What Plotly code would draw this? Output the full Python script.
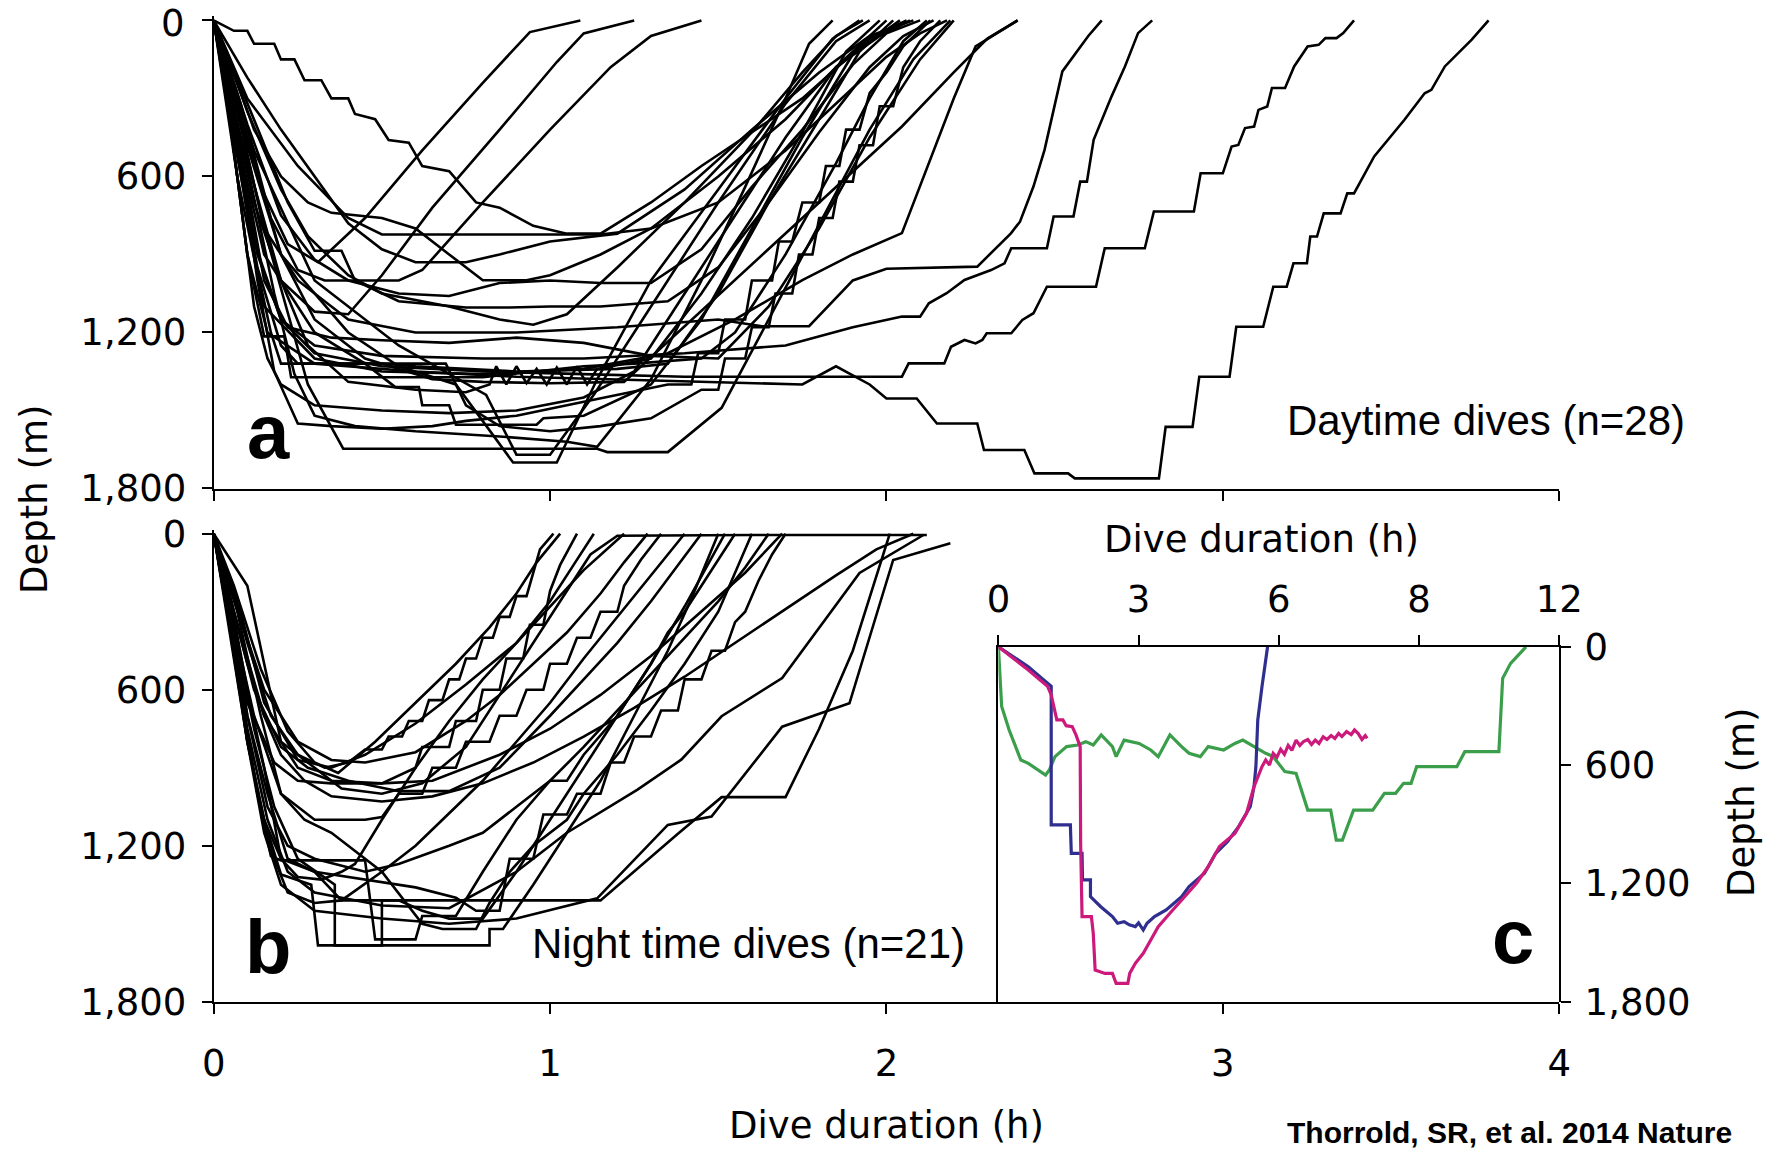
import plotly.graph_objects as go

# ---------------- DATA (time in hours, depth in metres) ----------------
DAY_DIVES = [
    [(0,0),(0.06,280),(0.14,640),(0.22,860),(0.31,930),(0.45,760),(0.62,500),(0.8,240),(0.94,45),(1.09,0)],
    [(0,0),(0.05,300),(0.12,700),(0.2,1000),(0.3,1120),(0.4,1130),(0.5,980),(0.65,720),(0.85,420),(1.02,160),(1.1,50),(1.25,0)],
    [(0,0),(0.08,320),(0.17,760),(0.25,960),(0.33,1000),(0.55,1000),(0.62,960),(0.8,700),(1.0,420),(1.18,180),(1.3,60),(1.45,0)],
    [(0,0),(0.1,560),(0.18,1050),(0.24,1360),(0.3,1520),(0.42,1560),(0.6,1580),(0.85,1600),(1.05,1620),(1.14,1640),(1.3,1380),(1.45,1000),(1.58,640),(1.7,300),(1.77,90),(1.84,0)],
    [(0,0),(0.08,400),(0.2,900),(0.4,1200),(0.55,1330),(0.72,1400),(0.89,1700),(1.02,1700),(1.14,1380),(1.3,1000),(1.5,650),(1.7,300),(1.84,70),(1.92,0)],
    [(0,0),(0.12,500),(0.3,1000),(0.55,1250),(0.81,1440),(0.9,1670),(1.0,1670),(1.13,1440),(1.3,1100),(1.5,700),(1.7,320),(1.85,80),(1.95,0)],
    [(0,0),(0.08,450),(0.2,1000),(0.28,1250),(0.4,1390),(0.6,1420),(0.75,1430),(0.82,1400),(0.84,1330),(0.87,1400),(0.9,1330),(0.93,1395),(0.96,1340),(0.99,1400),(1.02,1335),(1.05,1400),(1.08,1330),(1.11,1400),(1.14,1340),(1.3,1300),(1.45,1050),(1.6,760),(1.75,430),(1.88,120),(1.98,0)],
    [(0,0),(0.05,350),(0.12,900),(0.17,1200),(0.2,1320),(0.5,1320),(0.6,1330),(0.9,1350),(1.2,1340),(1.35,1320),(1.5,1050),(1.65,700),(1.8,380),(1.92,120),(2.02,0)],
    [(0,0),(0.06,400),(0.15,900),(0.3,1200),(0.45,1320),(0.5,1372),(0.54,1410),(0.61,1410),(0.62,1480),(0.7,1480),(0.72,1555),(0.96,1555),(0.98,1530),(1.1,1520),(1.3,1400),(1.45,1150),(1.6,800),(1.75,450),(1.9,130),(2.04,0)],
    [(0,0),(0.06,40),(0.1,40),(0.12,90),(0.18,90),(0.2,150),(0.24,150),(0.27,230),(0.32,230),(0.35,300),(0.4,300),(0.42,360),(0.48,380),(0.52,460),(0.58,470),(0.62,560),(0.7,580),(0.78,700),(0.85,720),(0.95,790),(1.05,820),(1.15,820),(1.3,700),(1.45,560),(1.6,430),(1.75,300),(1.88,150),(1.96,60),(2.06,0)],
    [(0,0),(0.1,220),(0.2,420),(0.3,600),(0.4,780),(0.5,880),(0.6,930),(0.75,930),(0.85,900),(1.0,850),(1.2,820),(1.4,650),(1.6,420),(1.8,200),(1.95,60),(2.08,0)],
    [(0,0),(0.1,400),(0.2,750),(0.3,920),(0.4,1000),(0.55,1050),(0.7,1060),(0.85,1010),(1.0,1000),(1.15,1010),(1.3,1010),(1.45,880),(1.6,640),(1.75,420),(1.9,170),(2.0,50),(2.1,0)],
    [(0,0),(0.04,300),(0.1,900),(0.15,1215),(0.21,1215),(0.23,1372),(0.8,1372),(0.95,1350),(1.1,1330),(1.25,1320),(1.45,1300),(1.55,1200),(1.7,900),(1.85,550),(1.95,300),(2.05,80),(2.12,0)],
    [(0,0),(0.12,380),(0.22,700),(0.3,886),(0.38,886),(0.42,1000),(0.55,1080),(0.75,1104),(0.88,1104),(1.0,1100),(1.15,1100),(1.35,1080),(1.5,950),(1.65,700),(1.8,430),(1.95,180),(2.05,60),(2.14,0)],
    [(0,0),(0.06,450),(0.13,950),(0.2,1250),(0.25,1320),(0.69,1320),(0.75,1480),(0.85,1560),(1.0,1580),(1.15,1560),(1.3,1530),(1.45,1420),(1.5,1420),(1.52,1300),(1.58,1300),(1.6,1180),(1.65,1180),(1.67,1050),(1.72,1050),(1.74,900),(1.78,900),(1.8,760),(1.84,760),(1.86,620),(1.9,620),(1.92,480),(1.96,480),(1.98,330),(2.02,330),(2.05,180),(2.1,80),(2.16,0)],
    [(0,0),(0.1,300),(0.25,560),(0.4,760),(0.5,823),(1.15,823),(1.3,800),(1.5,700),(1.7,500),(1.85,320),(2.0,140),(2.1,50),(2.18,0)],
    [(0,0),(0.08,500),(0.15,1000),(0.22,1180),(0.35,1220),(0.5,1230),(0.7,1240),(0.9,1220),(1.1,1240),(1.3,1290),(1.5,1300),(1.65,1100),(1.8,800),(1.95,450),(2.1,150),(2.2,0)],
    [(0,0),(0.1,450),(0.2,900),(0.3,1150),(0.45,1300),(0.65,1380),(0.8,1390),(1.0,1395),(1.22,1390),(2.046,408),(2.2,200),(2.3,70),(2.39,0)],
    [(0,0),(0.07,600),(0.15,1100),(0.3,1300),(0.5,1350),(0.8,1360),(1.1,1340),(1.35,1280),(1.55,1150),(1.75,999),(1.9,900),(2.046,818),(2.2,300),(2.265,100),(2.39,0)],
    [(0,0),(0.08,400),(0.15,800),(0.25,1000),(0.4,1150),(0.6,1200),(0.9,1200),(1.2,1180),(1.5,1150),(1.63,1176),(1.77,1176),(1.9,1000),(2.0,955),(2.27,947),(2.37,819),(2.397,774),(2.437,639),(2.47,498),(2.497,344),(2.523,196),(2.6,60),(2.64,0)],
    [(0,0),(0.06,400),(0.13,900),(0.2,1150),(0.3,1250),(0.5,1290),(0.8,1300),(1.1,1300),(1.4,1280),(1.7,1250),(1.9,1180),(2.046,1139),(2.1,1139),(2.126,1088),(2.179,1049),(2.232,998),(2.311,960),(2.351,934),(2.371,876),(2.477,876),(2.497,754),(2.556,754),(2.576,620),(2.596,620),(2.616,459),(2.669,293),(2.709,177),(2.748,49),(2.79,0)],
    [(0,0),(0.05,350),(0.12,850),(0.2,1150),(0.3,1280),(0.5,1330),(0.8,1350),(1.1,1360),(1.4,1370),(1.7,1370),(2.046,1370),(2.066,1319),(2.172,1319),(2.192,1255),(2.232,1229),(2.265,1242),(2.285,1229),(2.298,1203),(2.371,1203),(2.404,1152),(2.437,1126),(2.477,1024),(2.623,1024),(2.649,876),(2.768,876),(2.795,735),(2.914,735),(2.934,588),(3.0,588),(3.026,485),(3.046,479),(3.066,414),(3.093,408),(3.106,344),(3.132,331),(3.146,260),(3.185,260),(3.212,177),(3.252,100),(3.285,94),(3.305,68),(3.338,68),(3.358,49),(3.39,0)],
    [(0,0),(0.05,400),(0.1,900),(0.16,1200),(0.3,1320),(0.6,1350),(0.9,1370),(1.2,1380),(1.5,1390),(1.75,1400),(1.85,1330),(1.95,1400),(2.0,1454),(2.09,1454),(2.15,1550),(2.27,1550),(2.29,1652),(2.41,1652),(2.44,1742),(2.54,1742),(2.56,1761),(2.81,1761),(2.83,1563),(2.91,1563),(2.93,1370),(3.02,1370),(3.04,1178),(3.12,1178),(3.15,1024),(3.19,1024),(3.21,934),(3.25,934),(3.26,831),(3.28,831),(3.30,742),(3.35,742),(3.37,665),(3.39,665),(3.45,523),(3.52,414),(3.54,382),(3.60,280),(3.62,267),(3.66,177),(3.69,139),(3.74,74),(3.79,0)],
    [(0,0),(0.1,350),(0.2,650),(0.28,830),(0.4,980),(0.5,1050),(0.7,1100),(0.85,1150),(0.95,1170),(1.05,1130),(1.2,950),(1.4,700),(1.6,430),(1.75,200),(1.85,60),(1.93,0)],
    [(0,0),(0.04,300),(0.08,700),(0.12,1100),(0.16,1300),(0.2,1400),(0.3,1480),(0.5,1500),(0.7,1510),(0.9,1500),(1.1,1450),(1.25,1350),(1.4,1050),(1.55,750),(1.7,450),(1.85,180),(2.0,0)],
    [(0,0),(0.06,200),(0.12,420),(0.2,600),(0.28,700),(0.35,740),(0.5,760),(0.6,800),(0.7,900),(0.8,999),(0.93,999),(1.0,980),(1.15,900),(1.3,800),(1.5,600),(1.7,380),(1.85,180),(1.98,60),(2.07,0)],
    [(0,0),(0.08,550),(0.13,1000),(0.18,1350),(0.25,1550),(0.35,1560),(0.5,1570),(0.65,1560),(0.75,1540),(0.9,1520),(1.05,1480),(1.2,1440),(1.35,1400),(1.42,1400),(1.44,1280),(1.5,1280),(1.52,1150),(1.58,1150),(1.6,1000),(1.66,1000),(1.68,850),(1.72,850),(1.75,700),(1.8,700),(1.82,560),(1.86,560),(1.88,420),(1.92,420),(1.95,280),(2.0,200),(2.05,100),(2.13,0)],
    [(0,0),(0.07,350),(0.15,800),(0.28,1400),(0.385,1647),(1.14,1647),(1.17,1660),(1.35,1660),(1.51,1490),(1.65,1150),(1.8,780),(1.95,420),(2.08,150),(2.19,0)],
]

NIGHT_DIVES = [
    [(0,0),(0.04,150),(0.1,420),(0.17,700),(0.25,850),(0.33,900),(0.4,880),(0.45,830),(0.5,830),(0.52,780),(0.56,780),(0.58,720),(0.62,720),(0.64,640),(0.68,640),(0.7,560),(0.73,560),(0.75,480),(0.78,480),(0.8,400),(0.83,400),(0.85,320),(0.88,320),(0.9,240),(0.93,240),(0.95,150),(0.97,60),(1.01,0)],
    [(0,0),(0.06,200),(0.14,520),(0.22,760),(0.3,880),(0.37,920),(0.48,800),(0.6,650),(0.72,500),(0.82,360),(0.9,230),(0.96,110),(1.03,0)],
    [(0,0),(0.05,300),(0.1,650),(0.18,880),(0.25,950),(0.35,960),(0.5,960),(0.6,900),(0.62,820),(0.7,820),(0.72,720),(0.78,720),(0.8,600),(0.85,600),(0.87,480),(0.92,480),(0.94,350),(0.98,350),(1.0,220),(1.03,120),(1.08,0)],
    [(0,0),(0.08,300),(0.15,650),(0.25,870),(0.35,900),(0.45,850),(0.6,730),(0.75,580),(0.9,420),(1.0,260),(1.07,120),(1.13,0)],
    [(0,0),(0.1,200),(0.15,500),(0.2,800),(0.3,900),(0.38,980),(0.5,1000),(0.62,960),(0.75,820),(0.85,620),(0.95,420),(1.05,220),(1.12,80),(1.2,8),(1.6,5),(2.12,5)],
    [(0,0),(0.05,250),(0.1,600),(0.15,900),(0.2,1250),(0.25,1320),(0.32,1330),(0.38,1300),(0.42,1270),(0.5,1100),(0.6,900),(0.7,720),(0.8,560),(0.9,420),(1.0,280),(1.1,140),(1.22,0)],
    [(0,0),(0.06,250),(0.15,600),(0.25,800),(0.35,870),(0.45,880),(0.6,840),(0.75,720),(0.85,620),(0.95,500),(1.05,380),(1.15,230),(1.22,110),(1.29,0)],
    [(0,0),(0.07,300),(0.14,700),(0.2,1000),(0.3,1100),(0.45,1100),(0.5,1090),(0.55,1000),(0.62,1000),(0.65,900),(0.72,900),(0.75,800),(0.82,800),(0.85,700),(0.9,700),(0.93,600),(0.98,600),(1.0,500),(1.05,500),(1.08,400),(1.12,400),(1.15,300),(1.2,300),(1.22,200),(1.27,100),(1.33,0)],
    [(0,0),(0.04,300),(0.09,700),(0.13,1000),(0.18,1250),(0.22,1380),(0.3,1420),(0.38,1410),(0.5,1300),(0.6,1200),(0.68,1100),(0.8,950),(0.9,800),(1.0,650),(1.1,480),(1.2,320),(1.3,160),(1.4,0)],
    [(0,0),(0.05,250),(0.12,600),(0.2,820),(0.28,900),(0.33,920),(0.4,950),(0.55,990),(0.7,990),(0.85,900),(1.0,700),(1.1,560),(1.2,420),(1.3,260),(1.38,120),(1.45,0)],
    [(0,0),(0.04,300),(0.1,800),(0.15,1100),(0.2,1310),(0.29,1350),(0.31,1583),(0.82,1583),(0.82,1520),(0.86,1520),(0.95,1350),(1.05,1150),(1.15,950),(1.25,700),(1.35,450),(1.42,250),(1.5,0)],
    [(0,0),(0.05,300),(0.12,750),(0.18,1050),(0.25,1250),(0.36,1350),(0.36,1583),(0.5,1583),(0.5,1410),(0.55,1410),(0.62,1450),(0.7,1480),(0.8,1480),(0.9,1300),(1.0,1100),(1.1,900),(1.2,700),(1.3,500),(1.4,280),(1.47,120),(1.52,0)],
    [(0,0),(0.03,200),(0.08,600),(0.13,1000),(0.17,1240),(0.2,1256),(0.45,1256),(0.48,1560),(0.6,1560),(0.62,1470),(0.72,1470),(0.8,1300),(0.9,1100),(1.0,950),(1.05,950),(1.1,850),(1.2,700),(1.25,600),(1.3,500),(1.35,380),(1.4,300),(1.45,200),(1.5,100),(1.55,0)],
    [(0,0),(0.05,300),(0.12,700),(0.2,1000),(0.27,1100),(0.35,1150),(0.5,1300),(0.62,1500),(0.68,1520),(0.78,1520),(0.82,1420),(0.88,1300),(0.95,1200),(1.05,1100),(1.1,1000),(1.2,850),(1.3,680),(1.4,500),(1.5,300),(1.55,150),(1.6,0)],
    [(0,0),(0.04,250),(0.1,700),(0.16,1050),(0.22,1200),(0.3,1250),(0.45,1300),(0.55,1270),(0.7,1200),(0.8,1150),(0.9,1050),(1.0,950),(1.1,820),(1.2,680),(1.3,540),(1.4,400),(1.5,260),(1.58,130),(1.65,0)],
    [(0,0),(0.06,300),(0.15,700),(0.25,900),(0.35,950),(0.5,960),(0.65,950),(0.75,900),(0.85,850),(1.0,750),(1.15,620),(1.3,470),(1.45,300),(1.58,150),(1.69,0)],
    [(0,0),(0.05,400),(0.1,800),(0.15,1100),(0.2,1250),(0.3,1300),(0.45,1330),(0.6,1360),(0.72,1400),(0.78,1450),(0.85,1450),(0.88,1250),(0.95,1250),(0.98,1080),(1.05,1080),(1.08,1000),(1.15,1000),(1.18,880),(1.22,880),(1.25,780),(1.3,780),(1.33,680),(1.38,680),(1.4,560),(1.45,560),(1.48,450),(1.52,450),(1.55,340),(1.58,300),(1.62,180),(1.66,80),(1.7,0)],
    [(0,0),(0.05,300),(0.1,700),(0.16,1000),(0.22,1250),(0.3,1300),(0.38,1410),(1.15,1410),(1.38,1154),(1.51,1013),(1.7,1013),(1.8,750),(1.9,450),(1.96,200),(2.01,0)],
    [(0,0),(0.04,300),(0.1,750),(0.16,1100),(0.22,1300),(0.3,1380),(0.5,1430),(0.7,1440),(0.9,1300),(1.05,1150),(1.26,984),(1.39,869),(1.51,702),(1.69,555),(1.92,151),(2.11,5)],
    [(0,0),(0.05,250),(0.1,500),(0.15,700),(0.2,850),(0.27,950),(0.35,1010),(0.5,1030),(0.65,1010),(0.8,960),(0.95,880),(1.1,780),(1.25,670),(1.4,550),(1.55,420),(1.7,290),(1.85,160),(1.97,60),(2.08,0)],
    [(0,0),(0.05,350),(0.1,800),(0.15,1150),(0.2,1350),(0.3,1450),(0.5,1480),(0.7,1500),(0.9,1480),(1.14,1402),(1.35,1120),(1.48,1088),(1.69,742),(1.89,652),(2.02,101),(2.19,37)],
]

# Inset c (time 0-12 h)
BLUE_T = [0,0.31,0.64,0.97,1.09,1.13,1.13,1.54,1.56,1.79,1.80,1.97,1.97,2.19,2.44,2.55,2.69,2.8,2.93,3.0,3.10,3.18,3.34,3.59,3.92,4.08,4.41,4.65,4.90,5.14,5.39,5.47,5.51,5.55,5.64,5.76]
BLUE_D = [0,50,101,168,194,200,903,903,1047,1047,1182,1182,1267,1318,1368,1402,1394,1410,1419,1400,1436,1402,1368,1334,1267,1216,1148,1047,988,912,810,709,608,371,202,0]
MAGENTA_T = [0,0.31,0.64,1.05,1.13,1.25,1.38,1.45,1.58,1.66,1.75,1.76,1.79,1.99,2.03,2.07,2.28,2.44,2.52,2.77,2.81,2.93,3.10,3.26,3.42,3.67,3.92,4.24,4.49,4.73,5.06,5.31,5.47,5.64,5.72,5.80,5.88,5.96,6.04,6.12,6.2,6.28,6.37,6.45,6.53,6.62,6.7,6.78,6.86,6.95,7.03,7.12,7.2,7.28,7.35,7.45,7.55,7.62,7.7,7.78,7.85,7.89]
MAGENTA_D = [0,58,118,200,244,371,371,400,405,447,506,1000,1368,1368,1453,1639,1656,1656,1707,1707,1656,1605,1554,1487,1419,1351,1284,1199,1115,1013,946,844,709,608,574,600,540,560,520,545,500,525,473,500,480,470,495,473,490,456,470,450,465,439,455,430,445,422,440,470,450,464]
GREEN_T = [0,0.07,0.23,0.48,0.64,1.01,1.09,1.21,1.46,1.70,1.87,2.03,2.20,2.44,2.52,2.69,3.01,3.26,3.42,3.67,3.92,4.08,4.32,4.49,4.82,5.06,5.23,5.47,5.72,5.88,6.13,6.37,6.62,7.11,7.23,7.36,7.60,8.01,8.26,8.50,8.67,8.83,8.95,9.81,9.98,10.71,10.79,10.96,11.29]
GREEN_D = [0,303,422,574,591,650,625,557,506,498,481,498,447,506,557,473,490,523,557,447,506,540,557,506,523,490,473,506,540,557,633,642,828,828,980,980,828,828,743,743,692,692,608,608,532,532,160,84,0]

DEPTH_TICKS = [0, 600, 1200, 1800]
DEPTH_LABELS = ["0", "600", "1,200", "1,800"]
DEPTH_LABELS_A = ["", "600", "1,200", "1,800"]   # top "0" of panel a is drawn as a note
HOUR_TICKS = [0, 1, 2, 3, 4]
HOUR_LABELS = ["0", "1", "2", "3", "4"]
INSET_TICKS = [0, 3, 6, 9, 12]
INSET_LABELS = ["0", "3", "6", "8", "12"]

# ---------------- LAYOUT GEOMETRY (screen pixels) ----------------
W, H = 1773, 1151
AX_FONT = "DejaVu Sans, Liberation Sans, Arial, sans-serif"
TXT_FONT = "Liberation Sans, Arial, Helvetica, sans-serif"
X0_PX, X4_PX = 213.7, 1559.2
A_TOP, A_BOT = 20.4, 488.5
B_TOP, B_BOT = 533.7, 1001.8
C_LEFT, C_RIGHT, C_TOP, C_BOT = 998.4, 1559.2, 646.8, 1001.8
EXT = 15  # metres of headroom above the surface in panels a and b

def fx(p):
    return p / W

def fy(p):
    return 1 - p / H

pxm = (A_BOT - A_TOP) / 1800.0

fig = go.Figure()
for dive in DAY_DIVES:
    fig.add_trace(go.Scatter(x=[p[0] for p in dive], y=[p[1] for p in dive], mode="lines",
                             line=dict(color="black", width=2.6), xaxis="x", yaxis="y",
                             showlegend=False, hoverinfo="skip"))
for dive in NIGHT_DIVES:
    fig.add_trace(go.Scatter(x=[p[0] for p in dive], y=[p[1] for p in dive], mode="lines",
                             line=dict(color="black", width=2.6), xaxis="x2", yaxis="y2",
                             showlegend=False, hoverinfo="skip"))
for t, d, c in [(GREEN_T, GREEN_D, "#3a9e4a"), (BLUE_T, BLUE_D, "#2e2f8f"), (MAGENTA_T, MAGENTA_D, "#cc1a7c")]:
    fig.add_trace(go.Scatter(x=t, y=d, mode="lines", line=dict(color=c, width=3.2),
                             xaxis="x3", yaxis="y3", showlegend=False, hoverinfo="skip"))

axis_common = dict(showline=True, linecolor="black", linewidth=2, ticks="outside", ticklen=10,
                   tickwidth=2, tickcolor="black", showgrid=False, zeroline=False, automargin=False,
                   ticklabeloverflow="allow",
                   tickfont=dict(family=AX_FONT, size=37, color="black"))

fig.update_layout(
    width=W, height=H, margin=dict(l=0, r=0, t=0, b=0, autoexpand=False),
    paper_bgcolor="white", plot_bgcolor="rgba(0,0,0,0)",
    xaxis=dict(domain=[fx(X0_PX), fx(X4_PX)], range=[0, 4], anchor="y", tickvals=HOUR_TICKS,
               showticklabels=False, **axis_common),
    yaxis=dict(domain=[fy(A_BOT), fy(A_TOP - EXT * pxm)], range=[1800, -EXT], anchor="x",
               tickvals=DEPTH_TICKS, ticktext=DEPTH_LABELS_A, ticklabelstandoff=8, **axis_common),
    xaxis2=dict(domain=[fx(X0_PX), fx(X4_PX)], range=[0, 4], anchor="y2", tickvals=HOUR_TICKS,
                ticktext=HOUR_LABELS, ticklabelstandoff=18, **axis_common),
    yaxis2=dict(domain=[fy(B_BOT), fy(B_TOP - EXT * pxm)], range=[1800, -EXT], anchor="x2",
                tickvals=DEPTH_TICKS, ticktext=DEPTH_LABELS, ticklabelstandoff=8, **axis_common),
    xaxis3=dict(domain=[fx(C_LEFT), fx(C_RIGHT)], range=[0, 12], anchor="y3", side="top",
                tickvals=INSET_TICKS, ticktext=INSET_LABELS, ticklabelstandoff=8, **axis_common),
    yaxis3=dict(domain=[fy(C_BOT), fy(C_TOP)], range=[1800, 0], anchor="x3", side="right",
                mirror=True, tickvals=DEPTH_TICKS, ticktext=DEPTH_LABELS, ticklabelstandoff=6,
                **axis_common),
)

def ann(text, xp, yp, size, family=TXT_FONT, bold=False, angle=0, xanchor="center", yanchor="middle"):
    fig.add_annotation(text=("<b>%s</b>" % text) if bold else text, x=fx(xp), y=fy(yp),
                       xref="paper", yref="paper", showarrow=False, textangle=angle,
                       xanchor=xanchor, yanchor=yanchor, borderpad=0,
                       font=dict(family=family, size=size, color="black"))

ann(DEPTH_LABELS[0], 186, 23, 37, family=AX_FONT, xanchor="right")
ann("Depth (m)", 34, 500, 37, family=AX_FONT, angle=-90)
ann("Dive duration (h)", 886, 1125, 37, family=AX_FONT)
ann("Dive duration (h)", 1261, 540, 37, family=AX_FONT)
ann("Depth (m)", 1741, 803, 37, family=AX_FONT, angle=-90)
ann("a", 268, 432, 76, bold=True)
ann("b", 268, 946, 76, bold=True)
ann("c", 1513, 936, 76, bold=True)
ann("Daytime dives (n=28)", 1486, 420, 42)
ann("Night time dives (n=21)", 748, 943, 42)
ann("Thorrold, SR, et al. 2014 Nature", 1286, 1150, 30, bold=True, xanchor="left", yanchor="bottom")

fig.write_html("out.html", config={"displayModeBar": False},
               post_script="document.body.style.margin='0px';")
